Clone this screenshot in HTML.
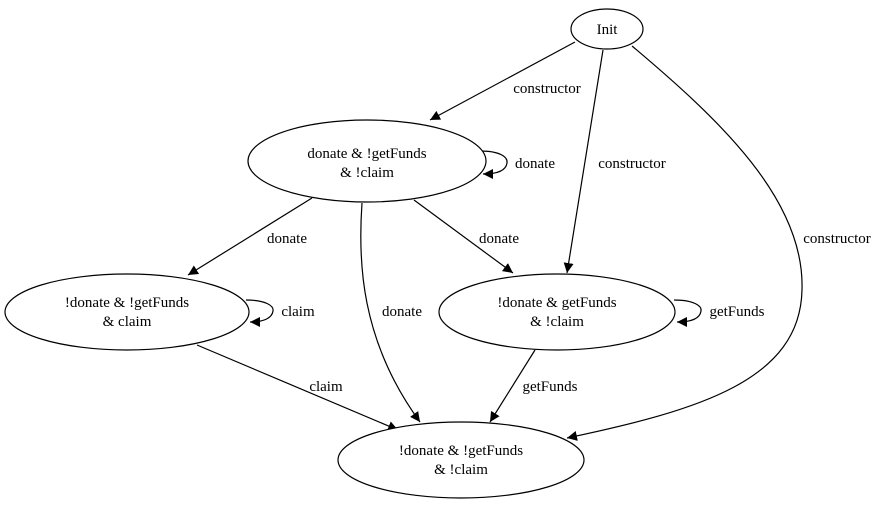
<!DOCTYPE html>
<html><head><meta charset="utf-8"><style>
html,body{margin:0;padding:0;background:#fff;}
svg{display:block;}
svg text{font-family:"Liberation Serif","Times New Roman",Times,serif !important;font-size:15px;fill:#000;}
</style></head><body>
<svg width="885" height="505" viewBox="0 0 885 505">
<defs><marker id="ah" viewBox="0 0 10 10" refX="10" refY="5" markerWidth="10" markerHeight="10" markerUnits="userSpaceOnUse" orient="auto"><path d="M0,0 L10,5 L0,10 z" fill="#000"/></marker></defs>
<g fill="none" stroke="#000" stroke-width="1.2">
<path d="M575,42 L430,120" marker-end="url(#ah)"/>
<path d="M603,50 L567,273" marker-end="url(#ah)"/>
<path d="M632,46 C720,120 805,200 802,290 C800,380 700,410 567,438" marker-end="url(#ah)"/>
<path d="M480,151 C500,151 508,157 507,163 C506,170 498,174 483,174" marker-end="url(#ah)"/>
<path d="M312,198 L188,275" marker-end="url(#ah)"/>
<path d="M362,203 C358,260 360,340 420,422" marker-end="url(#ah)"/>
<path d="M414,200 L513,273" marker-end="url(#ah)"/>
<path d="M246,300 C266,300 274,306 273,311 C272,318 264,322 250,322" marker-end="url(#ah)"/>
<path d="M674,300 C694,300 702,306 701,311 C700,318 692,322 677,322" marker-end="url(#ah)"/>
<path d="M197,345 L398,430" marker-end="url(#ah)"/>
<path d="M535,350 L490,422" marker-end="url(#ah)"/>
</g>
<g fill="#fff" stroke="#000" stroke-width="1.2">
<ellipse cx="607" cy="29" rx="36" ry="20"/>
<ellipse cx="367" cy="161" rx="119" ry="41"/>
<ellipse cx="127" cy="312" rx="122" ry="38"/>
<ellipse cx="557" cy="312" rx="118" ry="38"/>
<ellipse cx="461" cy="460" rx="123" ry="38"/>
</g>
<g text-anchor="middle" font-family="Liberation Serif, Times New Roman, serif" font-size="15">
<text x="607" y="34">Init</text>
<text x="367" y="158">donate &amp; !getFunds</text>
<text x="367" y="177">&amp; !claim</text>
<text x="127" y="307">!donate &amp; !getFunds</text>
<text x="127" y="326">&amp; claim</text>
<text x="557" y="307">!donate &amp; getFunds</text>
<text x="557" y="326">&amp; !claim</text>
<text x="461" y="455">!donate &amp; !getFunds</text>
<text x="461" y="474">&amp; !claim</text>
<text x="547" y="93">constructor</text>
<text x="632" y="168">constructor</text>
<text x="837" y="243">constructor</text>
<text x="535" y="168">donate</text>
<text x="287" y="243">donate</text>
<text x="499" y="243">donate</text>
<text x="402" y="316">donate</text>
<text x="298" y="316">claim</text>
<text x="737" y="316">getFunds</text>
<text x="326" y="391">claim</text>
<text x="550" y="391">getFunds</text>
</g>
</svg>
</body></html>
